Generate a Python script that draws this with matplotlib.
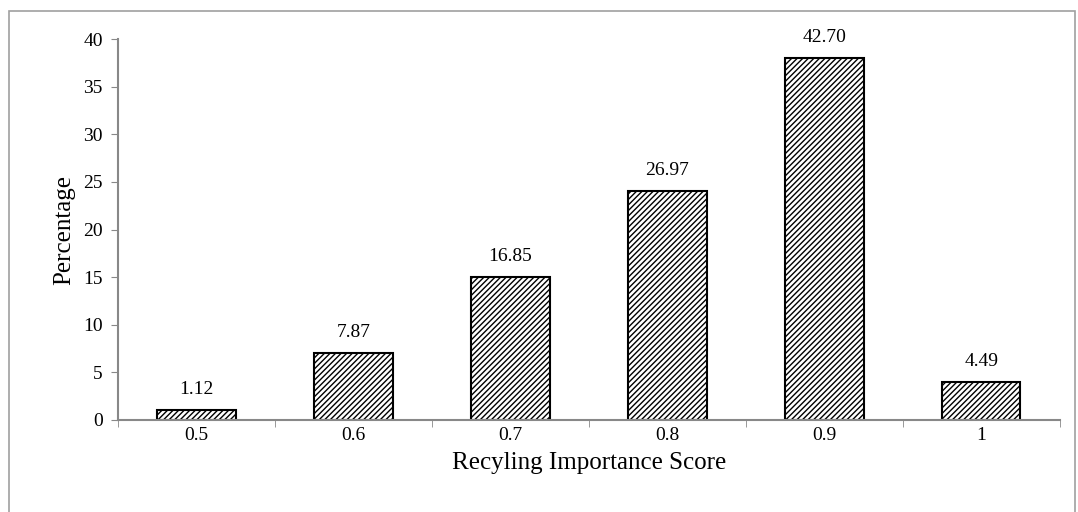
import matplotlib.pyplot as plt
import matplotlib.patches as patches
import numpy as np

plt.rcParams['font.family'] = ['Liberation Serif', 'DejaVu Serif']
plt.rcParams['hatch.linewidth'] = 1.0

# Chart data
scores = ['0.5', '0.6', '0.7', '0.8', '0.9', '1']
bar_heights = [1, 7, 15, 24, 38, 4]
value_labels = ['1.12', '7.87', '16.85', '26.97', '42.70', '4.49']

fig = plt.figure(figsize=(10.78, 5.12), dpi=100)
ax = fig.add_axes([0.1095, 0.1797, 0.8735, 0.7441])

# outer frame around the whole chart
frame = patches.Rectangle((9 / 1078, -0.01), 1066 / 1078, 1 - 11 / 512 + 0.01,
                          transform=fig.transFigure, fill=False,
                          edgecolor='#a0a0a0', linewidth=1.2)
fig.patches.append(frame)

x = np.arange(len(scores))
bars = ax.bar(x, bar_heights, width=0.5, color='white', edgecolor='black',
              linewidth=1.5, hatch='//////')

for xi, h, lab in zip(x, bar_heights, value_labels):
    ax.text(xi, h + 1.3, lab, ha='center', va='bottom', fontsize=14)

ax.set_xlim(-0.5, len(scores) - 0.5)
ax.set_ylim(0, 40)
ax.set_yticks(range(0, 41, 5))
ax.set_xticks(x)
ax.set_xticklabels(scores)
ax.set_xticks(np.arange(-0.5, len(scores), 1), minor=True)
ax.tick_params(axis='x', which='major', length=0, labelsize=14, pad=5)
ax.tick_params(axis='x', which='minor', length=5, color='#888888', direction='out')
ax.tick_params(axis='y', length=5, color='#888888', labelsize=14, pad=6)

for side in ['top', 'right']:
    ax.spines[side].set_visible(False)
for side in ['left', 'bottom']:
    ax.spines[side].set_color('#888888')
    ax.spines[side].set_linewidth(1.5)

ax.set_xlabel('Recyling Importance Score', fontsize=18, labelpad=6)
ax.set_ylabel('Percentage', fontsize=18, labelpad=6)

plt.savefig('out.png', dpi=100)
plt.close()
